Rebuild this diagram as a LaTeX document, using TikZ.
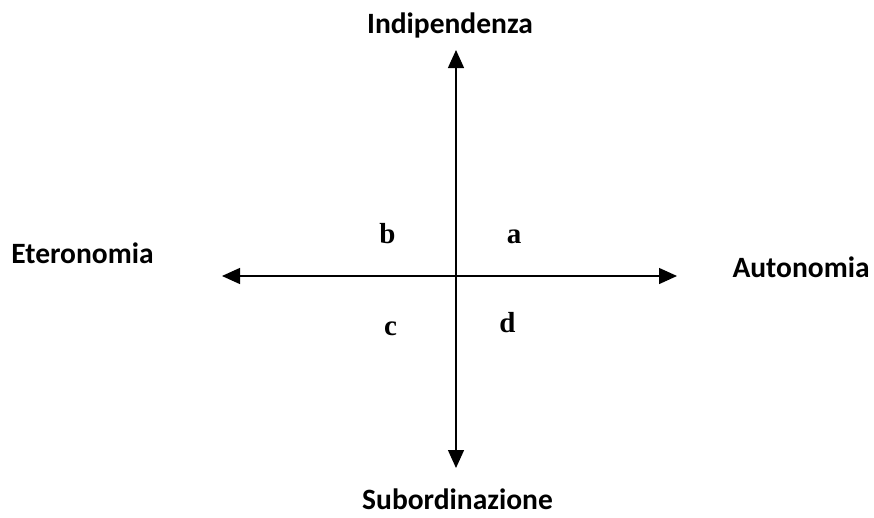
\documentclass[tikz,border=0pt]{standalone}
\usepackage{fontspec}
\setmainfont{Liberation Serif}
\newfontfamily\labelfont{Carlito}
\usetikzlibrary{arrows.meta}
\begin{document}
\begin{tikzpicture}[x=1pt,y=-1pt,
  axis/.style={line width=1.3pt,-{Triangle[length=18pt,width=16pt]}},
  pole/.style={font=\labelfont\bfseries\fontsize{29.5}{33}\selectfont, inner sep=0pt, anchor=base},
  quad/.style={font=\bfseries\fontsize{29}{33}\selectfont, inner sep=0pt, anchor=base}]
\useasboundingbox (0,0) rectangle (874,517);
\coordinate (o) at (456,276);
\coordinate (top) at (456,50);
\coordinate (bot) at (456,468);
\coordinate (left) at (222,276);
\coordinate (right) at (677,276);
\draw[axis] (o) -- (top);
\draw[axis] (o) -- (bot);
\draw[axis] (o) -- (left);
\draw[axis] (o) -- (right);
\node[pole] (ind) at (450,33) {Indipendenza};
\node[pole, text depth=0pt] (sub) at (457.5,509) {Subordinazione};
\node[pole] (ete) at (82.5,263) {Eteronomia};
\node[pole] (aut) at (801,277) {Autonomia};
\node[quad] (b) at (387.5,243) {b};
\node[quad] (a) at (514,243) {a};
\node[quad] (c) at (390.5,335) {c};
\node[quad] (d) at (507.5,332) {d};
\end{tikzpicture}
\end{document}
